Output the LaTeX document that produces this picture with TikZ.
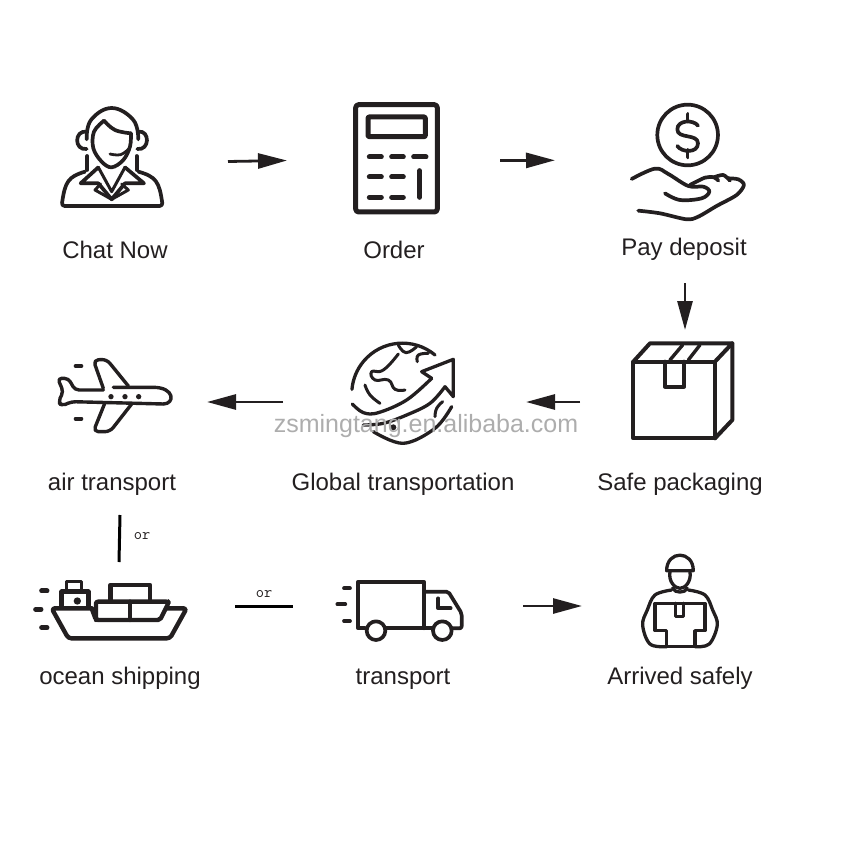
\documentclass[tikz,border=0pt]{standalone}
\usepackage{fontspec}
\setmainfont{Liberation Sans}
\usetikzlibrary{arrows.meta}
\definecolor{inkblack}{HTML}{231F20}
\tikzset{
  icon/.style={draw=inkblack,line width=3.7pt,line cap=round,line join=round},
  cell/.style={inner sep=0pt,outer sep=0pt},
  flow/.style={line width=2.8pt,inkblack,-{Triangle[length=29pt,width=15pt]}},
  orline/.style={line width=3pt,black},
  caption/.style={font=\fontsize{24}{26}\selectfont,text=inkblack,inner sep=0pt,anchor=base},
  orlabel/.style={font=\ttfamily\fontsize{16}{17}\selectfont,text=inkblack,inner sep=0pt},
  watermark/.style={font=\fontsize{25}{27}\selectfont,text=black!32,inner sep=0pt}
}
\begin{document}
\begin{tikzpicture}[x=1pt,y=-1pt]
  \useasboundingbox (0,0) rectangle (850,850);
  % icon cells
  \node[cell,minimum width=226pt,minimum height=120pt] (chat) at (115,161.5) {};
  \node[cell,minimum width=213pt,minimum height=120pt] (calc) at (393.5,160.5) {};
  \node[cell,minimum width=260pt,minimum height=245.4pt] (pay) at (685,160.3) {};
  \node[cell,minimum width=210pt,minimum height=144pt] (box) at (685,402) {};
  \node[cell,minimum width=243pt,minimum height=120pt] (globe) at (404.5,402) {};
  \node[cell,minimum width=174pt,minimum height=226pt] (air) at (120,402) {};
  \node[cell,minimum width=232pt,minimum height=88pt] (ship) at (119,606) {};
  \node[cell,minimum width=230pt,minimum height=88pt] (truck) at (408,606) {};
  \node[cell,minimum width=196pt,minimum height=88pt] (man) at (680,606) {};
  % agent
  \begin{scope}[shift={(30,80)},scale=0.3333]
    \draw[icon] plot[smooth,tension=0.7] coordinates {(170,178) (183,120) (245,84) (310,120) (325,178)};
    \draw[icon] (170,155) .. controls (132,150) and (132,212) .. (170,207);
    \draw[icon] (325,155) .. controls (360,150) and (360,212) .. (322,207);
    \draw[icon] plot[smooth,tension=0.6] coordinates {(222,122) (192,155) (190,205) (215,245) (245,262) (280,240) (300,200) (303,160)};
    \draw[icon] plot[smooth,tension=0.7] coordinates {(222,122) (255,150) (303,160)};
    \draw[icon,line width=2.8pt] plot[smooth,tension=0.7] coordinates {(240,222) (272,224) (298,205)};
    \draw[icon] (172,228) -- (172,270);
    \draw[icon] (320,228) -- (320,270);
    \draw[icon] (205,262) -- (152,310) -- (205,310) -- (245,358) -- (285,310) -- (342,310) -- (285,262);
    \draw[icon,line width=3pt] (205,262) -- (245,335) -- (285,262);
    \draw[icon,line width=3pt] (212,312) -- (195,330) -- (245,358) -- (295,330) -- (275,312);
    \draw[icon,rounded corners=3pt] (165,275) .. controls (115,290) and (105,305) .. (95,378) -- (398,378) .. controls (388,305) and (378,290) .. (325,275);
  \end{scope}
  % calculator
  \begin{scope}[shift={(340,80)},scale=0.3333]
    \draw[icon,line width=5pt,rounded corners=3pt] (47,74) rectangle (292,396);
    \draw[icon,line width=5pt,rounded corners=1pt] (84,111) rectangle (256,170);
    \foreach \y in {231,291,352} {
      \draw[icon,line width=5pt] (88,\y) -- (124,\y);
      \draw[icon,line width=5pt] (155,\y) -- (190,\y);
    }
    \draw[icon,line width=5pt] (221,231) -- (258,231);
    \draw[icon,line width=5pt] (239,272) -- (239,352);
  \end{scope}
  % coin in hand
  \begin{scope}[shift={(340,80)},scale=0.3333]
    \draw[icon] (1043,165) circle (91);
    \draw[icon] (1043,102) -- (1043,124);
    \draw[icon] (1043,210) -- (1043,232);
    \draw[icon] (1074,137) .. controls (1060,118) and (1012,120) .. (1012,148) .. controls (1012,178) and (1074,160) .. (1074,190) .. controls (1074,220) and (1025,218) .. (1012,198);
    \draw[icon] plot[smooth,tension=0.6] coordinates {(875,297) (945,266) (985,282) (1045,318) (1090,320) (1108,335) (1085,355) (1020,360) (975,340)};
    \draw[icon] plot[smooth,tension=0.5] coordinates {(1050,315) (1095,293) (1122,292) (1135,302)};
    \draw[icon] plot[smooth,tension=0.5] coordinates {(1122,292) (1150,285) (1170,302)};
    \draw[icon] plot[smooth,tension=0.5] coordinates {(1165,295) (1195,298) (1212,315) (1190,345) (1130,378) (1075,410) (1040,418) (960,400) (895,392)};
  \end{scope}
  % package
  \begin{scope}[shift={(320,330)},scale=0.3333]
    \draw[icon,line width=4pt] (940,95) rectangle (1185,325);
    \draw[icon,line width=4pt] (940,95) -- (990,40) -- (1237,40) -- (1185,95);
    \draw[icon,line width=4pt] (1237,40) -- (1237,270) -- (1185,325);
    \draw[icon,line width=4pt] (1035,95) -- (1035,170) -- (1092,170) -- (1092,95);
    \draw[icon,line width=3.4pt] (1050,90) -- (1088,45);
    \draw[icon,line width=3.4pt] (1105,90) -- (1140,45);
  \end{scope}
  % earth and arrow
  \begin{scope}[shift={(320,330)},scale=0.3333]
    \draw[icon,line width=3.3pt] (345,75) arc[start angle=-50,end angle=-175,radius=152];
    \draw[icon,line width=3.3pt] plot[smooth,tension=0.6] coordinates {(97,222) (130,248) (175,248) (260,210) (335,145)};
    \draw[icon,line width=3.3pt] (335,145) -- (305,125) -- (400,88) -- (400,200) -- (375,170);
    \draw[icon,line width=3.3pt] plot[smooth,tension=0.6] coordinates {(375,170) (330,220) (260,255) (190,280) (130,285)};
    \draw[icon,line width=3.3pt] plot[smooth,tension=0.6] coordinates {(160,305) (250,340) (345,295) (395,230)};
    \draw[icon,line width=3pt] plot[smooth,tension=0.8] coordinates {(235,72) (190,120) (155,125) (165,150) (205,150) (225,178) (255,180)};
    \draw[icon,line width=3pt] plot[smooth,tension=0.8] coordinates {(135,165) (150,195) (180,220)};
    \draw[icon,line width=3pt] plot[smooth,tension=0.8] coordinates {(235,45) (258,68) (290,50)};
    \draw[icon,line width=3pt] plot[smooth,tension=0.8] coordinates {(292,95) (295,75) (325,70)};
    \draw[icon,line width=3pt] plot[smooth,tension=0.8] coordinates {(345,260) (350,235) (368,215)};
    \fill[inkblack] (220,292) circle (9);
  \end{scope}
  % airplane
  \begin{scope}[shift={(30,330)},scale=0.3333]
    \draw[icon,line width=3.4pt,rounded corners=4pt] (220,180) -- (135,180) -- (115,145) -- (83,145) -- (100,185) -- (85,215) -- (95,228) -- (125,215) -- (400,222);
    \draw[icon,line width=3.4pt] (400,222) .. controls (435,222) and (435,172) .. (370,172) -- (250,172);
    \draw[icon,line width=3.4pt,rounded corners=5pt] (220,175) -- (190,90) -- (230,88) -- (295,168);
    \draw[icon,line width=3.4pt,rounded corners=5pt] (225,218) -- (190,305) -- (240,305) -- (305,222);
    \foreach \x in {243,285,326} {
      \fill[inkblack] (\x,200) circle (8);
    }
    \draw[icon,line width=4pt] (137,108) -- (154,108);
    \draw[icon,line width=4pt] (137,266) -- (154,266);
  \end{scope}
  % ship
  \begin{scope}[shift={(20,510)},scale=0.3333]
    \draw[icon,line width=4.4pt,rounded corners=3pt] (215,295) -- (95,295) -- (145,385) -- (450,385) -- (500,295) -- (442,295);
    \draw[icon,line width=4.4pt,rounded corners=2pt] (215,295) -- (228,330) -- (420,330) -- (445,280) -- (445,275) -- (228,275) -- (228,330);
    \draw[icon,line width=4.4pt] (330,275) -- (330,330);
    \draw[icon,line width=4.4pt] (272,270) -- (272,225) -- (390,225) -- (390,270);
    \draw[icon,line width=4.4pt] (125,290) -- (125,245) -- (205,245) -- (205,290);
    \draw[icon,line width=3.4pt] (140,240) -- (140,214) -- (185,214) -- (185,240);
    \fill[inkblack] (172,273) circle (11);
    \draw[icon,line width=5pt] (65,243) -- (81,243);
    \draw[icon,line width=5pt] (47,298) -- (63,298);
    \draw[icon,line width=5pt] (65,353) -- (81,353);
  \end{scope}
  % truck
  \begin{scope}[shift={(320,540)},scale=0.3333]
    \draw[icon] (135,265) -- (115,265) -- (115,125) -- (312,125) -- (312,265);
    \draw[icon] (195,265) -- (340,265);
    \draw[icon,rounded corners=2pt] (315,155) -- (385,155) -- (425,220) -- (425,265) -- (395,265);
    \draw[icon] (168,272) circle (28);
    \draw[icon] (367,272) circle (28);
    \draw[icon] (355,175) -- (355,205) -- (392,205);
    \draw[icon] (72,145) -- (90,145);
    \draw[icon] (52,193) -- (76,193);
    \draw[icon] (72,243) -- (90,243);
  \end{scope}
  % courier
  \begin{scope}[shift={(320,540)},scale=0.3333]
    \draw[icon,line width=3.3pt] (1040,92) .. controls (1040,30) and (1120,30) .. (1120,92) -- cycle;
    \draw[icon,line width=3.3pt] (1050,95) .. controls (1045,125) and (1065,145) .. (1080,145) .. controls (1095,145) and (1115,125) .. (1110,95);
    \draw[icon,line width=3.3pt] (1058,145) .. controls (1065,160) and (1095,160) .. (1102,145);
    \draw[icon,line width=3.3pt] plot[smooth,tension=0.6] coordinates {(1055,150) (1005,165) (982,210) (968,255) (990,312) (1040,320)};
    \draw[icon,line width=3.3pt] plot[smooth,tension=0.6] coordinates {(1105,150) (1155,165) (1178,210) (1192,255) (1168,312) (1125,320)};
    \draw[icon,line width=3.3pt] (1005,190) -- (1155,190) -- (1155,272) -- (1125,272) -- (1125,320) -- (1040,320) -- (1040,272) -- (1005,272) -- cycle;
    \draw[icon,line width=3.3pt] (1066,190) -- (1066,230) -- (1090,230) -- (1090,190);
  \end{scope}
  % captions
  \node[caption] (chatname) at (115,258) {Chat Now};
  \node[caption] (calcname) at (394,258) {Order};
  \node[caption] (payname) at (684,255) {Pay deposit};
  \node[caption] (airname) at (112,490) {air transport};
  \node[caption] (globename) at (403,490) {Global transportation};
  \node[caption] (boxname) at (680,490) {Safe packaging};
  \node[caption] (shipname) at (120,684) {ocean shipping};
  \node[caption] (truckname) at (403,684) {transport};
  \node[caption] (manname) at (680,684) {Arrived safely};
  \node[orlabel] (orair) at (142,536) {or};
  \node[orlabel] (orship) at (264,594) {or};
  % steps
  \draw[flow] (chat.east) -- (calc.west);
  \draw[flow] (calc.east) -- (pay.west);
  \draw[flow] (pay.south) -- (box.north);
  \draw[flow] (box.west) -- (globe.east);
  \draw[flow] (globe.west) -- (air.east);
  \draw[orline] (air.south) -- (ship.north);
  \draw[orline] (ship.east) -- (truck.west);
  \draw[flow] (truck.east) -- (man.west);
  \node[watermark] (mark) at (426,426) {zsmingtang.en.alibaba.com};
\end{tikzpicture}
\end{document}
